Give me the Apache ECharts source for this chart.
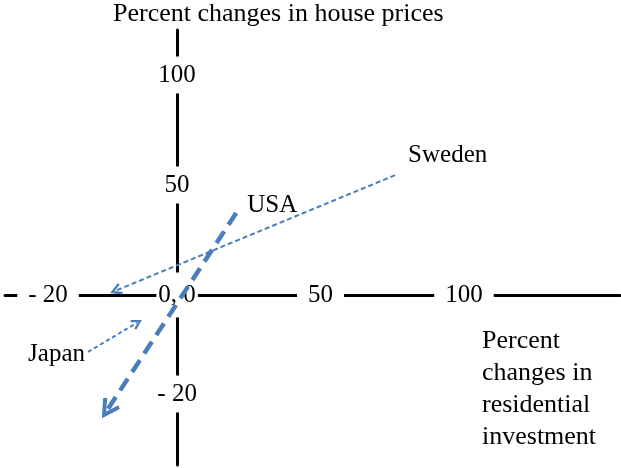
<!DOCTYPE html>
<html>
<head>
<meta charset="utf-8">
<script src="https://cdn.jsdelivr.net/npm/echarts@6/dist/echarts.min.js"></script>
<style>
  html, body { margin: 0; padding: 0; background: #fff; }
  #main { width: 621px; height: 468px; }
</style>
</head>
<body>
<div id="main"></div>
<script>
// 轴标签和名称
const yAxisName = 'Percent changes in house prices'
const xAxisName = 'Percent\nchanges in\nresidential\ninvestment'
const xTicks = [-20, 0, 50, 100]
const yTicks = [-20, 0, 50, 100]

// 国家和箭头 [住宅投资变化, 房价变化]，起点和箭头处
const countries = ['Sweden', 'USA', 'Japan']
const arrowFrom = [[76, 54.5], [20.6, 37.3], [-13.8, -11.5]]
const arrowTo = [[-9.5, 2.0], [-10.8, -23.2], [-6.2, -5.6]]

// 示意图：负半轴画得更宽
const NEG_STRETCH = 2.25
const place = v => (v < 0 ? v * NEG_STRETCH : v)
const fmtTick = v => (v < 0 ? '- ' + Math.abs(v) : String(v))

const FONT = 'Liberation Serif'
const BLUE = '#4a7ebb'
const chevron = 'path://M5,0 L10,8 L8.4,9.2 L5,3.6 L1.6,9.2 L0,8 Z'

const arrowStyle = {
  Sweden: { width: 2, dash: [5, 3], size: 12 },
  USA: { width: 4.5, dash: [14, 8], size: 20 },
  Japan: { width: 2, dash: [4, 3], size: 11 }
}
const nameLabel = {
  Sweden: { position: 'right', distance: 13, offset: [0, -20] },
  USA: { position: 'right', distance: 11, offset: [0, -8] },
  Japan: { position: 'left', distance: 3, offset: [0, 3] }
}

const axisCommon = {
  type: 'value',
  axisLine: { onZero: true, lineStyle: { color: '#000', width: 3 } },
  axisTick: { show: false },
  axisLabel: { show: false },
  splitLine: { show: false }
}

// 只用来放文字的散点
const textOnly = {
  type: 'scatter',
  silent: true,
  symbolSize: 0,
  itemStyle: { color: 'transparent', opacity: 1 }
}

const tickLabel = {
  show: true,
  position: 'inside',
  fontFamily: FONT,
  fontSize: 25,
  color: '#000',
  opacity: 1,
  backgroundColor: '#fff'
}

const series = []

// x 轴刻度（原点写成 0, 0）
series.push(Object.assign({}, textOnly, {
  z: 1,
  data: xTicks.map(v => ({
    value: [place(v), 0],
    label: v === 0 ? { padding: [10, 2] } : {}
  })),
  label: Object.assign({}, tickLabel, {
    padding: [4, 11],
    formatter: p => (p.value[0] === 0 ? '0, 0' : fmtTick(xTicks[p.dataIndex]))
  })
}))

// y 轴刻度
const yShown = yTicks.filter(v => v !== 0)
series.push(Object.assign({}, textOnly, {
  z: 1,
  data: yShown.map(v => [0, place(v)]),
  label: Object.assign({}, tickLabel, {
    padding: [6, 4],
    formatter: p => fmtTick(yShown[p.dataIndex])
  })
}))

// 箭头
countries.forEach((name, i) => {
  const st = arrowStyle[name]
  series.push({
    type: 'lines',
    name: name,
    coordinateSystem: 'cartesian2d',
    z: 3,
    silent: true,
    symbol: ['none', chevron],
    symbolSize: st.size,
    lineStyle: { color: BLUE, width: st.width, type: st.dash, opacity: 1 },
    itemStyle: { color: BLUE },
    data: [{
      coords: [
        [place(arrowFrom[i][0]), place(arrowFrom[i][1])],
        [place(arrowTo[i][0]), place(arrowTo[i][1])]
      ]
    }]
  })
})

// 国家名称
series.push(Object.assign({}, textOnly, {
  z: 4,
  data: countries.map((name, i) => ({
    name: name,
    value: [place(arrowFrom[i][0]), place(arrowFrom[i][1])],
    label: nameLabel[name]
  })),
  label: {
    show: true,
    formatter: '{b}',
    fontFamily: FONT,
    fontSize: 25,
    color: '#000',
    opacity: 1
  }
}))

const chart = echarts.init(document.getElementById('main'))
chart.setOption({
  animation: false,
  backgroundColor: '#fff',
  title: [
    {
      text: yAxisName,
      left: 113,
      top: 1,
      padding: 0,
      textStyle: { fontFamily: FONT, fontSize: 26, fontWeight: 'normal', color: '#000' }
    },
    {
      text: xAxisName,
      left: 482,
      top: 325,
      padding: 0,
      textStyle: { fontFamily: FONT, fontSize: 26, fontWeight: 'normal', color: '#000', lineHeight: 32 }
    }
  ],
  grid: { left: 5, right: 1, top: 30, bottom: 3 },
  xAxis: Object.assign({}, axisCommon, { min: -60, max: 154.4 }),
  yAxis: Object.assign({}, axisCommon, { min: -77.3, max: 120.5 }),
  series: series
})
</script>
</body>
</html>
